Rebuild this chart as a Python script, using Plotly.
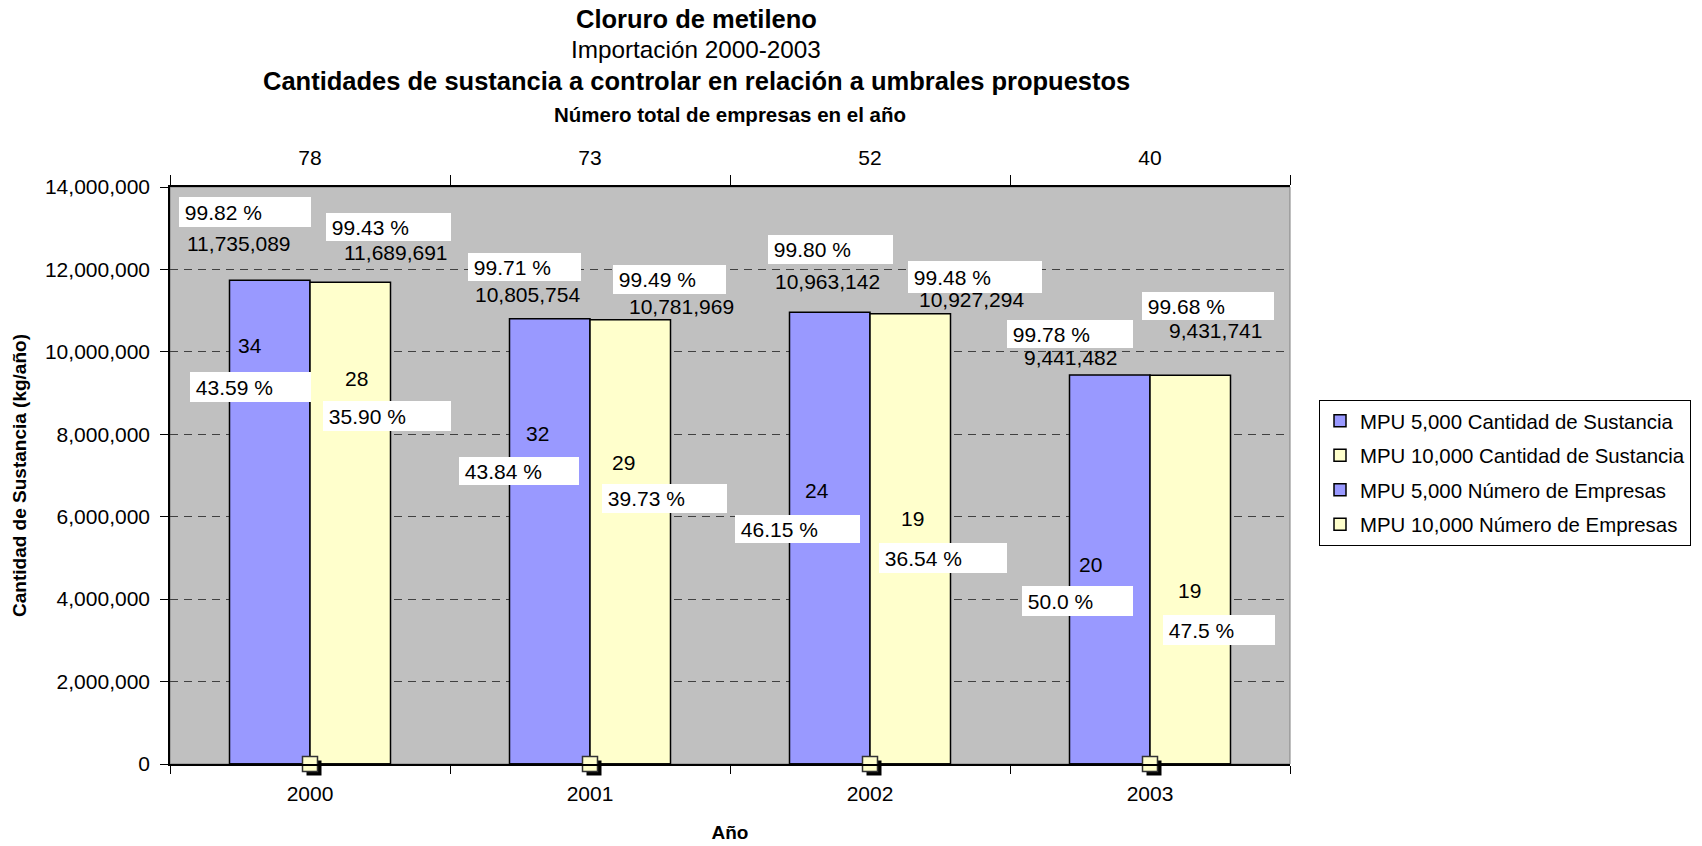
import plotly.graph_objects as go

# ---------------- data ----------------
years = ["2000", "2001", "2002", "2003"]
total_companies = [78, 73, 52, 40]
qty_mpu5000 = [11735089, 10805754, 10963142, 9441482]
qty_mpu10000 = [11689691, 10781969, 10927294, 9431741]
pct_qty_mpu5000 = ["99.82 %", "99.71 %", "99.80 %", "99.78 %"]
pct_qty_mpu10000 = ["99.43 %", "99.49 %", "99.48 %", "99.68 %"]
companies_mpu5000 = [34, 32, 24, 20]
companies_mpu10000 = [28, 29, 19, 19]
pct_comp_mpu5000 = ["43.59 %", "43.84 %", "46.15 %", "50.0 %"]
pct_comp_mpu10000 = ["35.90 %", "39.73 %", "36.54 %", "47.5 %"]
baseline_markers = [0, 0, 0, 0]

# ---------------- layout constants ----------------
W, H = 1702, 846
L, R, T, B = 170, 412, 187, 82
PW, PH = W - L - R, H - T - B
YMAX = 14_000_000
FONT = "Liberation Sans, Arial, sans-serif"
BLUE = "#9999FF"
YELLOW = "#FFFFCC"
PLOT_BG = "#C0C0C0"

def py_to_paper(py):
    return (H - B - py) / PH

def px_to_paper(px):
    return (px - L) / PW

idx = list(range(len(years)))

fig = go.Figure()

fig.add_trace(go.Bar(x=years, y=qty_mpu5000, name="MPU 5,000 Cantidad de Sustancia",
                     legendgroup="a",
                     marker=dict(color=BLUE, line=dict(color="black", width=1.5))))
fig.add_trace(go.Bar(x=years, y=qty_mpu10000, name="MPU 10,000 Cantidad de Sustancia",
                     legendgroup="b",
                     marker=dict(color=YELLOW, line=dict(color="black", width=1.5))))
fig.add_trace(go.Bar(x=years, y=companies_mpu5000, name="MPU 5,000 Número de Empresas",
                     yaxis="y2", legendgroup="c",
                     marker=dict(color=BLUE, line=dict(color="black", width=1.5))))
fig.add_trace(go.Bar(x=years, y=companies_mpu10000, name="MPU 10,000 Número de Empresas",
                     yaxis="y2", legendgroup="d",
                     marker=dict(color=YELLOW, line=dict(color="black", width=1.5))))

# invisible trace registering the categories of the top axis
fig.add_trace(go.Scatter(x=years, y=baseline_markers, xaxis="x2", mode="markers",
                         showlegend=False, hoverinfo="skip",
                         marker=dict(opacity=0, size=1)))

# small square markers at the base (with shadow)
shadow_dx = 4 / (PW / len(years))   # 4 px expressed in category units
fig.add_trace(go.Scatter(x=[i + shadow_dx for i in idx], y=baseline_markers,
                         xaxis="x3", mode="markers", showlegend=False, cliponaxis=False,
                         hoverinfo="skip",
                         marker=dict(symbol="square", size=15, color="black",
                                     angle=0, standoff=4, line=dict(width=0))))
fig.add_trace(go.Scatter(x=idx, y=baseline_markers, xaxis="x3", mode="markers",
                         showlegend=False, cliponaxis=False,
                         marker=dict(symbol="square", size=15, color=YELLOW,
                                     line=dict(color="#333333", width=1.5))))

annotations = []

# titles
titles = [
    ("<b>Cloruro de metileno</b>", 25.5, 18.5, 696),
    ("Importación 2000-2003", 24.3, 49, 696),
    ("<b>Cantidades de sustancia a controlar en relación a umbrales propuestos</b>", 25.5, 81, 696),
    ("<b>Número total de empresas en el año</b>", 20.5, 115, 730),
]
for txt, size, py, px in titles:
    annotations.append(dict(text=txt, xref="paper", yref="paper",
                            x=px_to_paper(px), y=py_to_paper(py),
                            xanchor="center", yanchor="middle", showarrow=False,
                            font=dict(family=FONT, size=size, color="black")))

# label offsets (pixels) relative to category centre & bar top
qty_box_5000 = [(-131, 83, 132, 30), (-122, 66, 113, 28), (-102, 77, 125, 29), (-143, 55, 126, 28)]
qty_box_10000 = [(16, 69, 125, 28), (23, 55, 113, 29), (38, 53, 134, 32), (-8, 83, 132, 28)]
val_lbl_5000 = [(-125, 37), (-117, 24), (-97, 31), (-128, 17)]
val_lbl_10000 = [(32, 30), (37, 13), (47, 14), (17, 45)]
# relative to category centre & baseline
cnt_lbl_5000 = [(-60, 419), (-53, 331), (-53, 274), (-60, 200)]
cnt_lbl_10000 = [(46, 386), (33, 302), (42, 246), (39, 174)]
cnt_box_5000 = [(-120, 392, 121, 30), (-131, 307, 120, 28), (-135, 249, 125, 28), (-128, 178, 111, 30)]
cnt_box_10000 = [(13, 363, 128, 30), (12, 280, 125, 29), (9, 221, 128, 30), (13, 149, 112, 30)]

lbl_font = dict(family=FONT, size=21, color="black")

def box(i, yval, spec, text):
    dx, dy, w, h = spec
    return dict(text="\u00a0" + text, xref="x3", yref="y", x=i, y=yval,
                xshift=dx, yshift=dy, xanchor="left", yanchor="top",
                width=w, height=h, align="left", valign="middle",
                bgcolor="white", borderpad=0, borderwidth=0,
                showarrow=False, font=lbl_font)

def plain(i, yval, spec, text, anchor):
    dx, dy = spec
    return dict(text=text, xref="x3", yref="y", x=i, y=yval,
                xshift=dx, yshift=dy, xanchor=anchor, yanchor="middle",
                showarrow=False, font=lbl_font)

for i in idx:
    annotations.append(box(i, qty_mpu5000[i], qty_box_5000[i], pct_qty_mpu5000[i]))
    annotations.append(box(i, qty_mpu10000[i], qty_box_10000[i], pct_qty_mpu10000[i]))
    annotations.append(plain(i, qty_mpu5000[i], val_lbl_5000[i], f"{qty_mpu5000[i]:,}", "left"))
    annotations.append(plain(i, qty_mpu10000[i], val_lbl_10000[i], f"{qty_mpu10000[i]:,}", "left"))
    annotations.append(plain(i, 0, cnt_lbl_5000[i], str(companies_mpu5000[i]), "center"))
    annotations.append(plain(i, 0, cnt_lbl_10000[i], str(companies_mpu10000[i]), "center"))
    annotations.append(box(i, 0, cnt_box_5000[i], pct_comp_mpu5000[i]))
    annotations.append(box(i, 0, cnt_box_10000[i], pct_comp_mpu10000[i]))

cat_range = [-0.5, len(years) - 0.5]

fig.update_layout(
    width=W, height=H, autosize=False,
    margin=dict(l=L, r=R, t=T, b=B, pad=0, autoexpand=False),
    paper_bgcolor="white", plot_bgcolor=PLOT_BG,
    font=dict(family=FONT, size=21, color="black"),
    barmode="group", bargap=0.425, bargroupgap=0,
    showlegend=True,
    legend=dict(x=px_to_paper(1319), y=py_to_paper(400), xanchor="left", yanchor="top",
                bgcolor="white", bordercolor="black", borderwidth=1,
                font=dict(family=FONT, size=20.4, color="black"),
                traceorder="grouped", tracegroupgap=5),
    xaxis=dict(type="category", categoryorder="array", categoryarray=years,
               range=cat_range, automargin=False,
               tickson="boundaries", ticks="outside", ticklen=8, tickwidth=1,
               tickcolor="black", showline=True, linecolor="black", linewidth=1.5,
               showgrid=False, ticklabelstandoff=10,
               tickfont=dict(family=FONT, size=21, color="black"),
               title=dict(text="<b>Año</b>", standoff=22,
                          font=dict(family=FONT, size=19, color="black"))),
    xaxis2=dict(type="category", categoryorder="array", categoryarray=years,
                range=cat_range, automargin=False,
                overlaying="x", side="top", tickson="boundaries",
                tickmode="array", tickvals=years, ticktext=[str(v) for v in total_companies],
                ticks="outside", ticklen=10, tickwidth=1, tickcolor="black",
                showline=True, linecolor="black", linewidth=2, showgrid=False,
                ticklabelstandoff=12,
                tickfont=dict(family=FONT, size=21, color="black")),
    xaxis3=dict(overlaying="x", range=cat_range, visible=False, automargin=False),
    yaxis=dict(range=[0, YMAX], dtick=2_000_000, tickformat=",", automargin=False,
               ticks="outside", ticklen=8, tickwidth=1, tickcolor="black",
               showline=True, linecolor="black", linewidth=1.5,
               showgrid=True, gridcolor="#404040", gridwidth=1, griddash="8px,6px",
               zeroline=False, ticklabelstandoff=6,
               tickfont=dict(family=FONT, size=21, color="black"),
               title=dict(text="<b>Cantidad de Sustancia (kg/año)</b>", standoff=13,
                          font=dict(family=FONT, size=19, color="black"))),
    yaxis2=dict(overlaying="y", range=[0, 1e12], visible=False, automargin=False),
    shapes=[dict(type="rect", xref="paper", yref="paper", x0=0, x1=1, y0=0, y1=1,
                 line=dict(color="#808080", width=1), layer="below")],
    annotations=annotations,
)

fig.write_html("out.html", config={"displayModeBar": False},
               post_script="document.body.style.margin='0px';document.body.style.overflow='hidden';")
